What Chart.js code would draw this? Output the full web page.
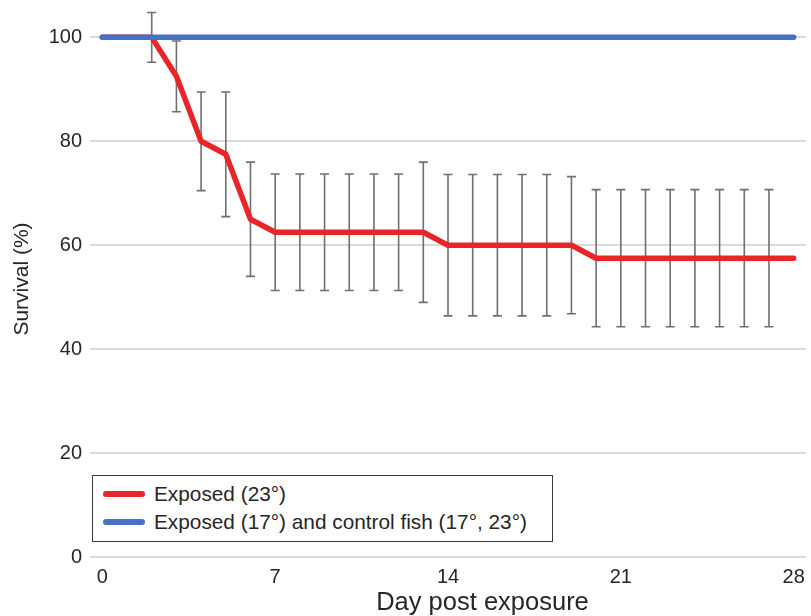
<!DOCTYPE html>
<html>
<head>
<meta charset="utf-8">
<script src="https://cdn.jsdelivr.net/npm/chart.js@4.4.1/dist/chart.umd.min.js"></script>
<style>
  body { margin: 0; background: #fff; }
  #wrap { position: relative; width: 811px; height: 616px; }
  #legend {
    position: absolute; left: 92px; top: 475px; width: 461px; height: 67px;
    border: 1px solid #3a3a3a; background: #fff; box-sizing: border-box;
    font-family: "Liberation Sans", Arial, sans-serif; font-size: 20.8px; color: #262626;
  }
  .item { position: absolute; left: 10px; height: 24px; display: flex; align-items: center; }
  .swatch { width: 42px; height: 6px; border-radius: 3px; margin-right: 9px; }
  #xtitle {
    position: absolute; left: 0; width: 965px; top: 587px; text-align: center;
    font-family: "Liberation Sans", Arial, sans-serif; font-size: 25.5px; color: #262626;
  }
</style>
</head>
<body>
<div id="wrap">
  <canvas id="chart"></canvas>
  <div id="legend"></div>
  <div id="xtitle">Day post exposure</div>
</div>
<script>
document.addEventListener("DOMContentLoaded", function () {
    const days = [0, 1, 2, 3, 4, 5, 6, 7, 8, 9, 10, 11, 12, 13, 14, 15, 16, 17, 18, 19, 20, 21, 22, 23, 24, 25, 26, 27, 28];
    const exposed23 = [100, 100, 100, 92.5, 80, 77.5, 65, 62.5, 62.5, 62.5, 62.5, 62.5, 62.5, 62.5,
        60, 60, 60, 60, 60, 60, 57.5, 57.5, 57.5, 57.5, 57.5, 57.5, 57.5, 57.5, 57.5];
    const exposed23Err = [null, null, 4.8, 6.8, 9.5, 12, 11, 11.2, 11.2, 11.2, 11.2, 11.2, 11.2, 13.5,
        13.6, 13.6, 13.6, 13.6, 13.6, 13.2, 13.2, 13.2, 13.2, 13.2, 13.2, 13.2, 13.2, 13.2, null];
    const control = [100, 100, 100, 100, 100, 100, 100, 100, 100, 100, 100, 100, 100, 100,
        100, 100, 100, 100, 100, 100, 100, 100, 100, 100, 100, 100, 100, 100, 100];
    const seriesLabels = ["Exposed (23°)", "Exposed (17°) and control fish (17°, 23°)"];
    const seriesColors = ["#e8262a", "#4472c4"];
    const xTicks = [0, 7, 14, 21, 28];
    const yTicks = [0, 20, 40, 60, 80, 100];

    const font = "'Liberation Sans', Arial, sans-serif";

    // error bars for the red series, drawn under the lines
    const errorBars = {
        id: "errorBars",
        beforeDatasetsDraw(chart) {
            const ctx = chart.ctx;
            const xs = chart.scales.x, ys = chart.scales.y;
            ctx.save();
            ctx.strokeStyle = "#6f6f6f";
            ctx.lineWidth = 1.6;
            exposed23Err.forEach((e, i) => {
                if (e == null) return;
                const x = xs.getPixelForValue(days[i]);
                const top = ys.getPixelForValue(exposed23[i] + e);
                const bot = ys.getPixelForValue(exposed23[i] - e);
                ctx.beginPath();
                ctx.moveTo(x, top); ctx.lineTo(x, bot);
                ctx.moveTo(x - 4.5, top); ctx.lineTo(x + 4.5, top);
                ctx.moveTo(x - 4.5, bot); ctx.lineTo(x + 4.5, bot);
                ctx.stroke();
            });
            ctx.restore();
        }
    };

    // blue first so it ends up drawn over the red line at 100
    const chart = new Chart(document.getElementById("chart"), {
        type: "line",
        data: {
            datasets: [
                {
                    label: seriesLabels[1],
                    data: days.map((d, i) => ({ x: d, y: control[i] })),
                    borderColor: seriesColors[1],
                    borderWidth: 5.5
                },
                {
                    label: seriesLabels[0],
                    data: days.map((d, i) => ({ x: d, y: exposed23[i] })),
                    borderColor: seriesColors[0],
                    borderWidth: 5.5
                }
            ]
        },
        options: {
            responsive: true,
            maintainAspectRatio: false,
            animation: false,
            layout: { padding: { top: 1, right: 5, left: 0, bottom: 0 } },
            elements: {
                point: { radius: 0 },
                line: { tension: 0, borderCapStyle: "round", borderJoinStyle: "round" }
            },
            plugins: {
                legend: { display: false },
                tooltip: { enabled: false }
            },
            scales: {
                x: {
                    type: "linear",
                    min: -0.5,
                    max: 28.5,
                    afterBuildTicks: s => { s.ticks = xTicks.map(v => ({ value: v })); },
                    afterFit: s => { s.height = 59; s.paddingLeft = 0; s.paddingRight = 0; },
                    grid: { display: false, drawTicks: false },
                    border: { display: false },
                    ticks: { font: { family: font, size: 20 }, color: "#262626", padding: 8, maxRotation: 0 }
                },
                y: {
                    min: 0,
                    max: 107,
                    afterBuildTicks: s => { s.ticks = yTicks.map(v => ({ value: v })); },
                    afterFit: s => { s.width = 90; s.paddingTop = 0; s.paddingBottom = 0; },
                    grid: { color: "#d9d9d9", lineWidth: 2, drawTicks: false },
                    border: { display: false },
                    ticks: { font: { family: font, size: 20 }, color: "#262626", padding: 8 },
                    title: {
                        display: true,
                        text: "Survival (%)",
                        font: { family: font, size: 21 },
                        color: "#262626",
                        padding: { top: 10, bottom: 0 }
                    }
                }
            }
        },
        plugins: [errorBars]
    });

    // legend box built from the dataset labels and colours
    const legendEl = document.getElementById("legend");
    [0, 1].forEach(i => {
        const row = document.createElement("div");
        row.className = "item";
        row.style.top = (i === 0 ? 6 : 33.5) + "px";
        row.innerHTML = '<span class="swatch" style="background:' + seriesColors[i] + '"></span>' + seriesLabels[i];
        legendEl.appendChild(row);
    });
});
</script>
</body>
</html>
